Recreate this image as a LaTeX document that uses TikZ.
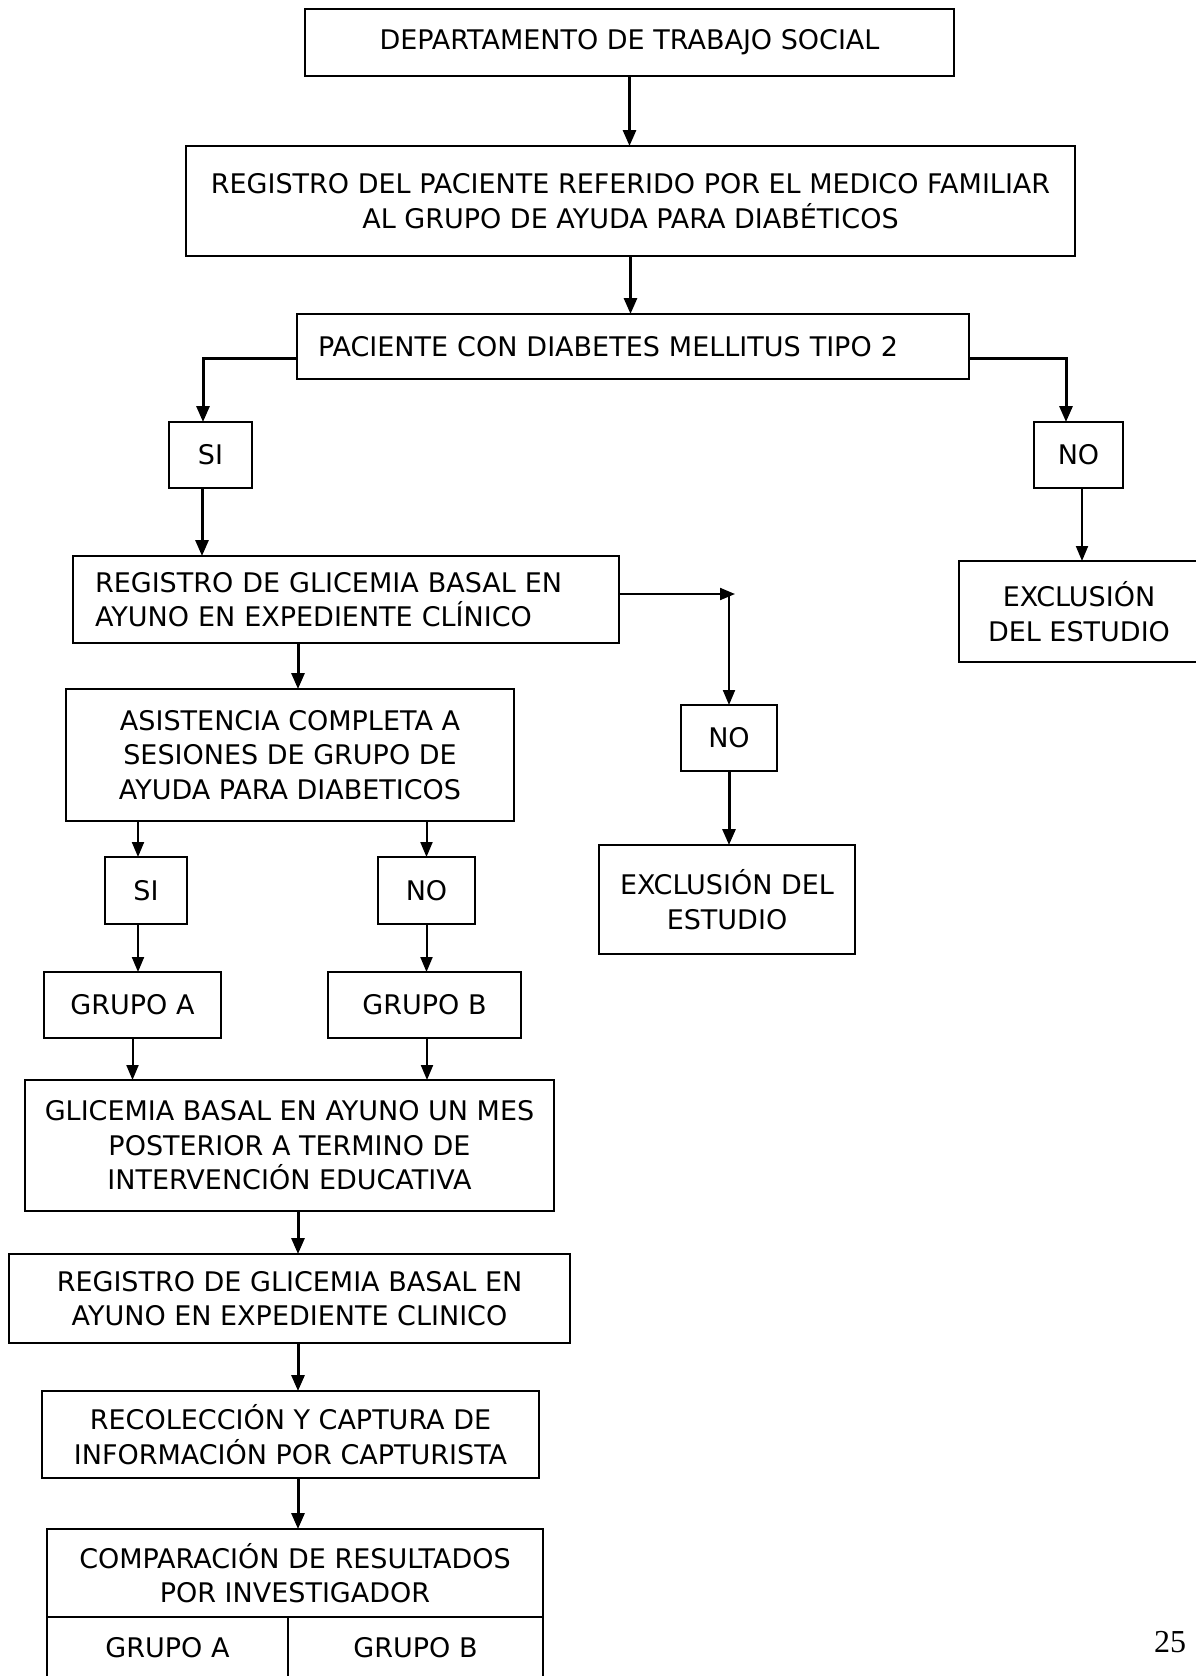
\documentclass[tikz,border=0pt]{standalone}
\usepackage{fontspec}
\setmainfont{DejaVu Sans}
\newfontfamily\pagefont{Liberation Serif}
\usepackage{tikz}
\usetikzlibrary{arrows.meta}
\newcommand{\flowfont}{\fontsize{27}{34.5}\selectfont}
\tikzset{
  flowbox/.style={draw, line width=2.5pt, align=center, inner sep=0pt, outer sep=0pt, font=\flowfont},
  flowarrow/.style={-{Triangle[length=16pt,width=13pt]}, line width=3pt},
  thinarrow/.style={-{Triangle[length=15pt,width=12pt]}, line width=2pt}
}

\begin{document}
\begin{tikzpicture}[x=1pt, y=-1pt]
  \useasboundingbox (0,0) rectangle (1195,1676);

  \node[flowbox, minimum width=649pt, minimum height=67pt] (depto) at (629.5,42.5) {DEPARTAMENTO DE TRABAJO SOCIAL};
  \node[flowbox, minimum width=889pt, minimum height=110pt] (registro) at (630.5,201) {REGISTRO DEL PACIENTE REFERIDO POR EL MEDICO FAMILIAR\\AL GRUPO DE AYUDA PARA DIABÉTICOS};
  \node[flowbox, minimum width=672pt, minimum height=65pt, align=left, text width=630pt, inner xsep=21pt] (paciente) at (633,346.5) {PACIENTE CON DIABETES MELLITUS TIPO 2};
  \node[flowbox, minimum width=83pt, minimum height=66pt] (si1) at (210.5,455) {SI};
  \node[flowbox, minimum width=89pt, minimum height=66pt] (no1) at (1078.5,455) {NO};
  \node[flowbox, minimum width=546pt, minimum height=87pt, align=left, text width=502pt, inner xsep=22pt] (glucosa) at (346,599.5) {REGISTRO DE GLICEMIA BASAL EN\\AYUNO EN EXPEDIENTE CLÍNICO};
  \node[flowbox, minimum width=240pt, minimum height=101pt] (excl1) at (1079,611.5) {EXCLUSIÓN\\DEL ESTUDIO};
  \coordinate (turn) at (735,594);
  \node[flowbox, minimum width=96pt, minimum height=66pt] (no2) at (729,738) {NO};
  \node[flowbox, minimum width=256pt, minimum height=109pt] (excl2) at (727,899.5) {EXCLUSIÓN DEL\\ESTUDIO};
  \node[flowbox, minimum width=448pt, minimum height=132pt] (asistencia) at (290,755) {ASISTENCIA COMPLETA A\\SESIONES DE GRUPO DE\\AYUDA PARA DIABETICOS};
  \node[flowbox, minimum width=82pt, minimum height=67pt] (si2) at (146,890.5) {SI};
  \node[flowbox, minimum width=97pt, minimum height=67pt] (no3) at (426.5,890.5) {NO};
  \node[flowbox, minimum width=177pt, minimum height=66pt] (grupoa) at (132.5,1005) {GRUPO A};
  \node[flowbox, minimum width=193pt, minimum height=66pt] (grupob) at (424.5,1005) {GRUPO B};
  \node[flowbox, minimum width=529pt, minimum height=131pt] (glicemia) at (289.5,1145.5) {GLICEMIA BASAL EN AYUNO UN MES\\POSTERIOR A TERMINO DE\\INTERVENCIÓN EDUCATIVA};
  \node[flowbox, minimum width=561pt, minimum height=89pt] (registro2) at (289.5,1298.5) {REGISTRO DE GLICEMIA BASAL EN\\AYUNO EN EXPEDIENTE CLINICO};
  \node[flowbox, minimum width=497pt, minimum height=87pt] (recoleccion) at (290.5,1434.5) {RECOLECCIÓN Y CAPTURA DE\\INFORMACIÓN POR CAPTURISTA};
  \node[flowbox, minimum width=496pt, minimum height=88pt] (comparacion) at (295,1573) {COMPARACIÓN DE RESULTADOS\\POR INVESTIGADOR};
  \node[flowbox, minimum width=241pt, minimum height=62pt, anchor=north west] (compa) at (comparacion.south west) {GRUPO A};
  \node[flowbox, minimum width=255pt, minimum height=62pt, anchor=north west] (compb) at (compa.north east) {GRUPO B};
  \node[font=\pagefont\fontsize{32}{36}\selectfont] (pagina) at (1170,1642) {25};

  \draw[flowarrow] (depto.south) -- (depto.south |- registro.north);
  \draw[flowarrow] (registro.south) -- (registro.south |- paciente.north);
  \draw[flowarrow] (paciente.west) ++(0,11.5) -| ([xshift=-7.5pt]si1.north);
  \draw[flowarrow] (paciente.east) ++(0,11.5) -| ([xshift=-12.5pt]no1.north);
  \draw[flowarrow] ([xshift=-8.5pt]si1.south) -- ([xshift=-8.5pt]si1.south |- glucosa.north);
  \draw[thinarrow] ([xshift=3.5pt]no1.south) -- ([xshift=3.5pt]no1.south |- excl1.north);
  \draw[thinarrow] (glucosa.east |- turn) -- (turn);
  \draw[thinarrow] (no2.north |- turn) -- (no2.north);
  \draw[flowarrow] (no2.south) -- (no2.south |- excl2.north);
  \draw[flowarrow] ([xshift=8pt]asistencia.north |- glucosa.south) -- ([xshift=8pt]asistencia.north);
  \draw[thinarrow] ([xshift=-8pt]si2.north |- asistencia.south) -- ([xshift=-8pt]si2.north);
  \draw[thinarrow] (no3.north |- asistencia.south) -- (no3.north);
  \draw[thinarrow] ([xshift=-8pt]si2.south) -- ([xshift=-8pt]si2.south |- grupoa.north);
  \draw[thinarrow] (no3.south) -- (no3.south |- grupob.north);
  \draw[thinarrow] (grupoa.south) -- (grupoa.south |- glicemia.north);
  \draw[thinarrow] ([xshift=2.5pt]grupob.south) -- ([xshift=2.5pt]grupob.south |- glicemia.north);
  \draw[flowarrow] ([xshift=8.5pt]glicemia.south) -- ([xshift=8.5pt]glicemia.south |- registro2.north);
  \draw[flowarrow] ([xshift=8.5pt]registro2.south) -- ([xshift=8.5pt]registro2.south |- recoleccion.north);
  \draw[flowarrow] ([xshift=7.5pt]recoleccion.south) -- ([xshift=7.5pt]recoleccion.south |- comparacion.north);
\end{tikzpicture}
\end{document}
